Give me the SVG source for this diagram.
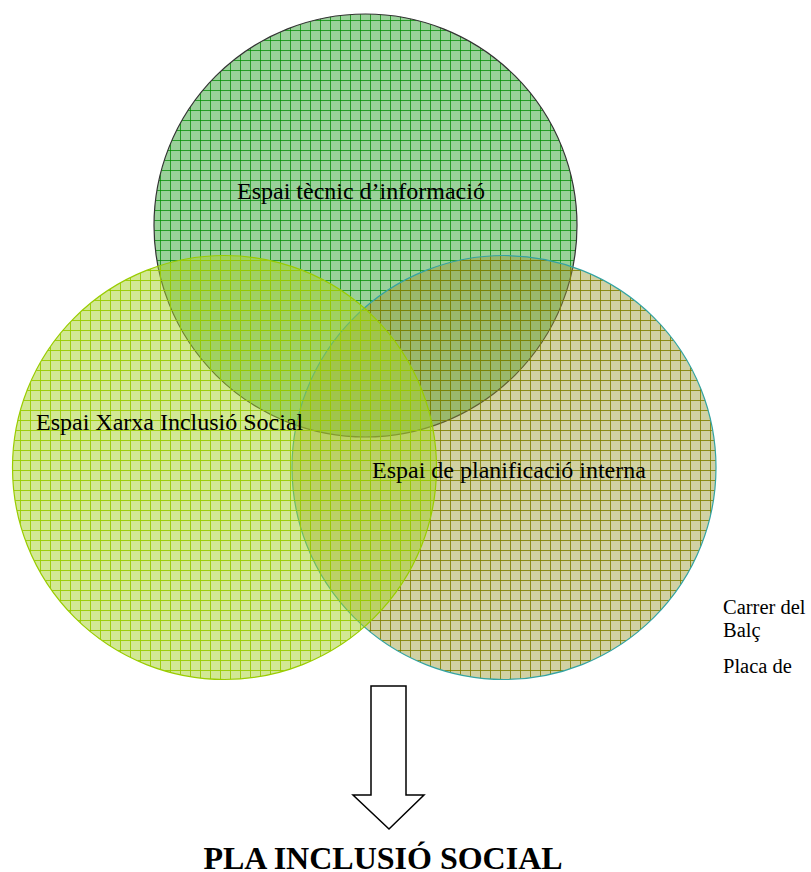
<svg xmlns="http://www.w3.org/2000/svg" width="811" height="872" viewBox="0 0 811 872">
<defs>
<pattern id="pTop" width="10" height="10" patternUnits="userSpaceOnUse">
<rect width="10" height="10" fill="#1f991f" fill-opacity="0.45"/>
<path d="M0 0.5H10M0.5 0V10" stroke="#008c00" stroke-width="1" stroke-opacity="0.75"/>
</pattern>
<pattern id="pLeft" width="10" height="10" patternUnits="userSpaceOnUse">
<rect width="10" height="10" fill="#a6d12a" fill-opacity="0.5"/>
<path d="M0 0.5H10M0.5 0V10" stroke="#99cc00" stroke-width="1" stroke-opacity="0.9"/>
</pattern>
<pattern id="pRight" width="10" height="10" patternUnits="userSpaceOnUse">
<rect width="10" height="10" fill="#999933" fill-opacity="0.45"/>
<path d="M0 0.5H10M0.5 0V10" stroke="#808000" stroke-width="1" stroke-opacity="0.85"/>
</pattern>
</defs>
<style>
.lbl{font-family:"Liberation Serif","Times New Roman",serif;fill:#000}
.c{font-size:24px}
.s{font-size:20.5px}
</style>
<rect width="811" height="872" fill="#fff"/>
<g id="circle-top">
<circle cx="365.5" cy="225.5" r="211.5" fill="url(#pTop)" stroke="#333" stroke-width="1.2"/>
</g>
<g id="circle-right">
<circle cx="504" cy="467.5" r="212" fill="url(#pRight)" stroke="#33a3a3" stroke-width="1.2"/>
</g>
<g id="circle-left">
<circle cx="224.5" cy="467.5" r="212" fill="url(#pLeft)" stroke="#99cc00" stroke-width="1.2"/>
</g>
<g id="labels">
<text class="lbl c" x="237" y="199">Espai tècnic d’informació</text>
<text class="lbl c" x="36" y="430">Espai Xarxa Inclusió Social</text>
<text class="lbl c" x="372" y="478">Espai de planificació interna</text>
</g>
<g id="side-notes">
<text class="lbl s" x="723" y="614">Carrer del</text>
<text class="lbl s" x="723" y="637">Balç</text>
<text class="lbl s" x="723" y="673">Placa de</text>
</g>
<g id="connectors">
<path d="M371 686H406V795H424L389 829L353 795H371Z" fill="#fff" stroke="#000" stroke-width="1.5"/>
</g>
<g id="title">
<text x="383" y="869" text-anchor="middle" font-family="Liberation Serif,'Times New Roman',serif" font-weight="bold" font-size="32" fill="#000">PLA INCLUSIÓ SOCIAL</text>
</g>
</svg>
